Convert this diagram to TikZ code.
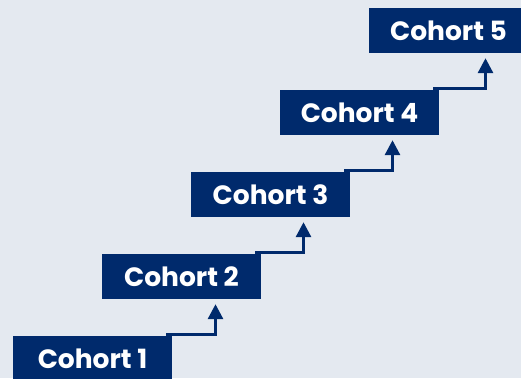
\documentclass[tikz,border=0pt]{standalone}
\usepackage{fontspec}
\setmainfont{Poppins}
\usepackage{tikz}
\usetikzlibrary{arrows.meta}
\definecolor{PaleBg}{RGB}{228,233,240}
\definecolor{NavyBox}{RGB}{0,42,108}

\begin{document}
\begin{tikzpicture}[x=1pt, y=-1pt,
		cohort/.style={fill=NavyBox, text=white, minimum width=159pt, minimum height=45pt, inner sep=0pt, font=\fontsize{26.5}{30}\selectfont\bfseries},
		climb/.style={NavyBox, line width=3pt, -{Triangle[width=15pt,length=15pt]}}]
		\clip (0,0) rectangle (521,378);
		\fill[PaleBg] (0,0) rectangle (521,378);
		% steps, lowest first
		\node[cohort] (c1) at (92.5,358.5) {Cohort 1};
		\node[cohort] (c2) at (181.5,276.5) {Cohort 2};
		\node[cohort] (c3) at (270.5,194.5) {Cohort 3};
		\node[cohort] (c4) at (359.5,112.5) {Cohort 4};
		\node[cohort] (c5) at (448.5,30.5) {Cohort 5};
		% stair connectors
		\draw[climb] ([xshift=-6pt,yshift=1pt]c1.north east) -| ([xshift=34pt,yshift=-5pt]c2.south);
		\draw[climb] ([xshift=-6pt,yshift=1pt]c2.north east) -| ([xshift=33pt,yshift=-5pt]c3.south);
		\draw[climb] ([xshift=-6pt,yshift=1pt]c3.north east) -| ([xshift=33pt,yshift=-5pt]c4.south);
		\draw[climb] ([xshift=-6pt,yshift=1pt]c4.north east) -| ([xshift=37pt,yshift=-5pt]c5.south);
	\end{tikzpicture}
\end{document}
